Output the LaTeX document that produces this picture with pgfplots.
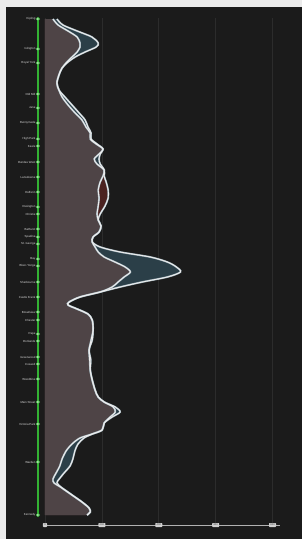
\documentclass[border=0pt]{standalone}
\usepackage{pgfplots}
\pgfplotsset{compat=1.18}
\usepackage{pgfplotstable}
\usepackage{fontspec}
\setmainfont{Liberation Sans}
\definecolor{bg}{HTML}{1B1B1B}
\definecolor{frame}{HTML}{EBEBEB}
\definecolor{pinkfill}{HTML}{4E4446}
\definecolor{tealfill}{HTML}{2B3F48}
\definecolor{redfill}{HTML}{4B2220}
\definecolor{lineg}{HTML}{33B233}
\definecolor{gridc}{HTML}{2C2C2C}
\definecolor{halo}{HTML}{9AADB6}
\definecolor{curve}{HTML}{EDEDED}
\definecolor{lab}{HTML}{D8D8D8}

\pgfplotstableread{
y A B M
19 42 28 28
25 63 46 46
31 113 81 81
37 165 113 113
43 187 123 123
47 180 123 123
52 141 113 113
57 106 95 95
62 81 77 77
68 60 60 60
75 49 49 49
83 42 42 42
90 49 49 49
97 70 60 60
105 95 81 81
113 120 106 106
120 141 130 130
127 151 144 144
133 162 159 159
139 162 159 159
144 183 180 180
149 204 204 204
154 194 190 190
159 190 173 173
164 194 183 183
170 208 208 208
176 204 208 204
182 194 215 194
190 187 222 187
198 190 222 190
206 187 211 187
214 183 194 183
220 187 187 187
226 197 197 197
232 190 190 190
237 169 169 169
242 166 166 166
247 194 176 176
252 264 187 187
257 370 208 208
262 430 246 246
267 462 282 282
272 476 300 300
277 430 278 278
282 342 257 257
287 264 236 236
292 194 194 194
297 123 123 123
302 85 85 85
305 81 81 81
309 113 113 113
314 151 151 151
320 166 166 166
330 169 169 169
340 162 166 162
350 155 155 155
360 157 161 157
370 159 159 159
380 166 166 166
390 176 176 176
397 187 187 187
402 208 208 208
407 247 240 240
412 264 247 247
417 236 229 229
423 208 208 208
430 201 201 201
434 166 166 166
438 137 123 123
444 116 95 95
451 105 74 74
459 98 60 60
466 88 52 52
473 67 39 39
479 50 28 28
483 42 32 32
488 60 60 60
495 95 95 95
502 130 130 130
508 155 155 155
512 159 159 159
515 148 148 148
}\flows

\pgfplotstableread[col sep=comma]{
x,y,name
-25,19,Kipling
-25,49,Islington
-25,63,Royal York
-25,94,Old Mill
-25,108,Jane
-25,123,Runnymede
-25,139,High Park
-25,146,Keele
-25,162,Dundas West
-25,177,Lansdowne
-25,192,Dufferin
-25,207,Ossington
-25,214,Christie
-25,229,Bathurst
-25,237,Spadina
-25,244,St. George
-25,259,Bay
-25,266,Bloor-Yonge
-25,282,Sherbourne
-25,297,Castle Frank
-25,312,Broadview
-25,320,Chester
-25,334,Pape
-25,341,Donlands
-25,357,Greenwood
-25,364,Coxwell
-25,379,Woodbine
-25,402,Main Street
-25,424,Victoria Park
-25,462,Warden
-25,515,Kennedy
}\stations

\begin{document}
\begin{tikzpicture}
\fill[frame] (0,0) rectangle (302pt,539pt);
\fill[bg] (6pt,0) rectangle (302pt,532pt);
\begin{axis}[
  at={(45pt,14pt)}, anchor=south west,
  scale only axis, width=235pt, height=507pt,
  xmin=0, xmax=826, ymin=18, ymax=525,
  y dir=reverse, clip=false,
  axis x line*=bottom, axis y line=none,
  axis line style={draw=white!70!black, line width=0.9pt},
  xtick={0,200,400,600,800},
  major tick length=0pt,
  xmajorgrids, major grid style={draw=gridc, line width=0.8pt},
  /pgf/number format/assume math mode=true,
  xticklabel style={anchor=center, fill=white!82!black, text=black!75, font=\fontsize{2.6}{3}\selectfont, inner xsep=1.3pt, inner ysep=0.6pt, rounded corners=0.6pt, minimum height=4pt},
]
\addplot[fill=tealfill, draw=none, smooth] table[x=A,y=y]{\flows} -- (axis cs:0,515) -- (axis cs:0,19) -- cycle;
\addplot[fill=redfill, draw=none, smooth] table[x=B,y=y]{\flows} -- (axis cs:0,515) -- (axis cs:0,19) -- cycle;
\addplot[fill=pinkfill, draw=none, smooth] table[x=M,y=y]{\flows} -- (axis cs:0,515) -- (axis cs:0,19) -- cycle;
\addplot[draw=halo, line width=1.8pt, smooth] table[x=A,y=y]{\flows};
\addplot[draw=halo, line width=1.8pt, smooth] table[x=B,y=y]{\flows};
\addplot[draw=curve, line width=0.9pt, smooth] table[x=A,y=y]{\flows};
\addplot[draw=curve, line width=0.9pt, smooth] table[x=B,y=y]{\flows};
\addplot[draw=lineg, line width=1.4pt] coordinates {(-25,19) (-25,515)};
\addplot[only marks, mark=*, mark size=1.7pt, mark options={draw=lineg, fill=white!70!lineg, line width=0.6pt},
  nodes near coords, point meta=explicit symbolic,
  every node near coord/.style={anchor=east, xshift=-2.2pt, text=lab, font=\fontsize{2.9}{3.2}\selectfont, inner sep=0pt}]
  table[x=x, y=y, meta=name]{\stations};
\end{axis}
\pgfresetboundingbox
\useasboundingbox (0,0) rectangle (302pt,539pt);
\end{tikzpicture}
\end{document}
